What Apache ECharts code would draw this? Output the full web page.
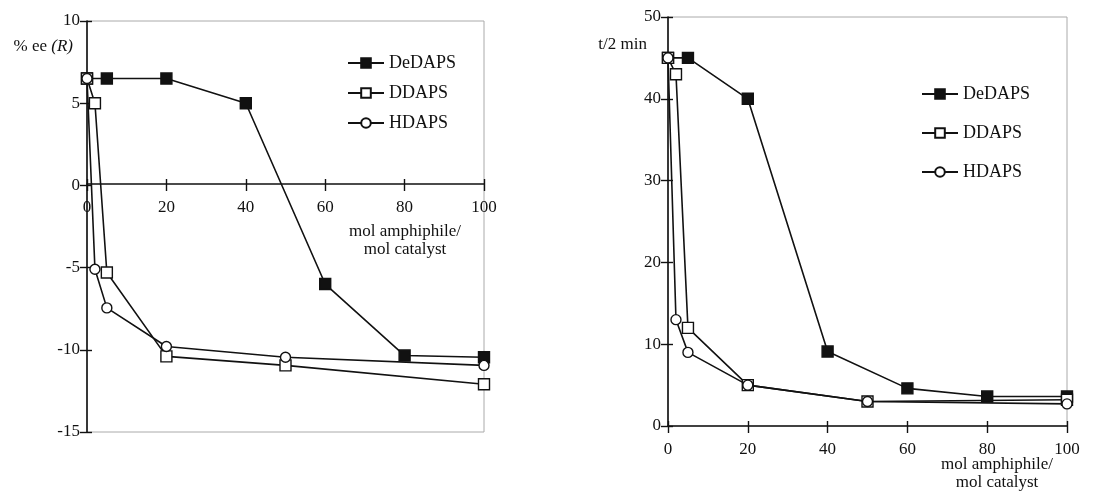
<!DOCTYPE html>
<html>
<head>
<meta charset="utf-8">
<script src="https://cdn.jsdelivr.net/npm/echarts@6/dist/echarts.min.js"></script>
<style>
  html, body { margin: 0; padding: 0; background: #fff; }
  #chart { width: 1104px; height: 493px; }
</style>
</head>
<body>
<div id="chart"></div>
<script>
// series names
const names = ['DeDAPS', 'DDAPS', 'HDAPS']

// x values (mol amphiphile / mol catalyst)
const xDe = [0, 5, 20, 40, 60, 80, 100]
const xD = [0, 2, 5, 20, 50, 100]
const xH = [0, 2, 5, 20, 50, 100]

// left panel: % ee (R)
const eeDe = [6.5, 6.5, 6.5, 5, -6, -10.35, -10.45]
const eeD = [6.5, 5, -5.3, -10.4, -10.95, -12.1]
const eeH = [6.5, -5.1, -7.45, -9.8, -10.45, -10.95]

// right panel: t/2 min
const tDe = [45, 45, 40, 9.1, 4.6, 3.6, 3.6]
const tD = [45, 43, 12, 5, 3, 3.2]
const tH = [45, 13, 9, 5, 3, 2.7]

const font = 'Liberation Serif'
const ink = '#111'

const zip = (xs, ys) => xs.map((x, i) => [x, ys[i]])

function lineSeries (name, xi, yi, data, symbol, fill) {
  return {
    name: name,
    type: 'line',
    xAxisIndex: xi,
    yAxisIndex: yi,
    data: data,
    symbol: symbol,
    symbolSize: symbol === 'circle' ? 10 : 11,
    showAllSymbol: true,
    animation: false,
    lineStyle: { color: ink, width: 1.6 },
    itemStyle: { color: fill, borderColor: ink, borderWidth: 1.4 },
    emphasis: { disabled: true }
  }
}

// main = visible line + outside ticks + labels, otherwise only inside ticks
function valueAxis (grid, pos, min, max, step, main, offset) {
  return {
    type: 'value',
    gridIndex: grid,
    position: pos,
    offset: offset || 0,
    min: min,
    max: max,
    interval: step,
    splitLine: { show: false },
    axisLine: { show: main, onZero: false, lineStyle: { color: ink, width: 1.6 } },
    axisTick: { show: true, inside: !main, length: main ? 7 : 5, lineStyle: { color: ink, width: 1.4 } },
    axisLabel: { show: main, color: ink, fontFamily: font, fontSize: 17, margin: pos === 'bottom' ? 15 : 7 }
  }
}

const chart = echarts.init(document.getElementById('chart'))

const legendBase = {
  orient: 'vertical',
  data: names,
  itemWidth: 36,
  itemHeight: 12,
  padding: 0,
  selectedMode: false,
  textStyle: { color: ink, fontFamily: font, fontSize: 18 }
}

const nameStyle = { font: '17px "Liberation Serif"', fill: ink, align: 'center', verticalAlign: 'top', lineHeight: 18 }

const option = {
  backgroundColor: '#fff',
  grid: [
    { left: 87, top: 21, width: 397, height: 411, show: true, borderColor: '#aaa', borderWidth: 1 },
    { left: 668, top: 17, width: 399, height: 409, show: true, borderColor: '#aaa', borderWidth: 1 }
  ],
  xAxis: [
    // left panel x axis sits on ee = 0 (248px above the grid bottom)
    valueAxis(0, 'bottom', 0, 100, 20, true, -248),
    valueAxis(0, 'bottom', 0, 100, 20, false, -248),
    valueAxis(1, 'bottom', 0, 100, 20, true),
    valueAxis(1, 'bottom', 0, 100, 20, false)
  ],
  yAxis: [
    Object.assign(valueAxis(0, 'left', -15, 10, 5, true), {
      name: '% ee {i|(R)}',
      nameLocation: 'end',
      nameGap: -26,
      nameTextStyle: {
        color: ink, fontFamily: font, fontSize: 17, align: 'right', verticalAlign: 'middle', padding: [0, 14, 0, 0],
        rich: { i: { fontStyle: 'italic', fontFamily: font, fontSize: 17, color: ink } }
      }
    }),
    valueAxis(0, 'left', -15, 10, 5, false),
    Object.assign(valueAxis(1, 'left', 0, 50, 10, true), {
      name: 't/2 min',
      nameLocation: 'end',
      nameGap: -28,
      nameTextStyle: {
        color: ink, fontFamily: font, fontSize: 17, align: 'right', verticalAlign: 'middle', padding: [0, 21, 0, 0]
      }
    }),
    valueAxis(1, 'left', 0, 50, 10, false)
  ],
  legend: [
    Object.assign({ left: 347, top: 54, itemGap: 12 }, legendBase),
    Object.assign({ left: 921, top: 85, itemGap: 21 }, legendBase)
  ],
  graphic: [
    { type: 'text', x: 405, y: 223, z: 10, style: Object.assign({ text: 'mol amphiphile/\nmol catalyst' }, nameStyle) },
    { type: 'text', x: 997, y: 456, z: 10, style: Object.assign({ text: 'mol amphiphile/\nmol catalyst' }, nameStyle) }
  ],
  series: [
    lineSeries(names[0], 0, 0, zip(xDe, eeDe), 'rect', ink),
    lineSeries(names[1], 0, 0, zip(xD, eeD), 'rect', '#fff'),
    lineSeries(names[2], 0, 0, zip(xH, eeH), 'circle', '#fff'),
    lineSeries(names[0], 2, 2, zip(xDe, tDe), 'rect', ink),
    lineSeries(names[1], 2, 2, zip(xD, tD), 'rect', '#fff'),
    lineSeries(names[2], 2, 2, zip(xH, tH), 'circle', '#fff')
  ]
}

chart.setOption(option)
</script>
</body>
</html>
